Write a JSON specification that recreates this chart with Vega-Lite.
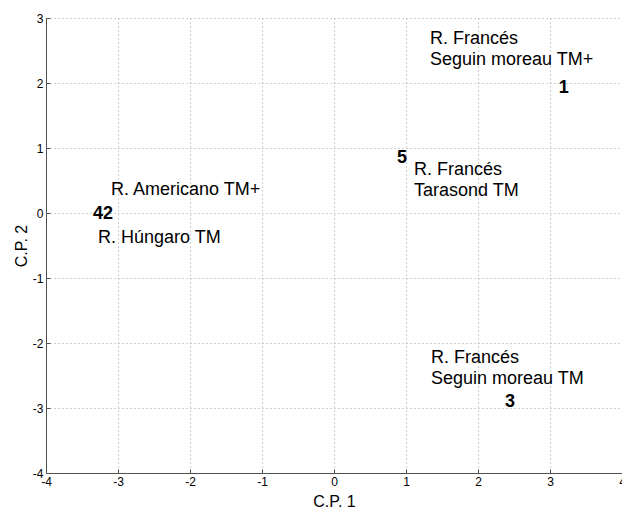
{
  "$schema": "https://vega.github.io/schema/vega-lite/v6.json",
  "width": 576,
  "height": 455,
  "autosize": {"type": "none"},
  "padding": {"left": 46, "top": 18, "right": 0, "bottom": 36},
  "background": "white",
  "config": {
    "view": {"stroke": null},
    "font": "Liberation Sans",
    "axis": {
      "grid": true,
      "gridDash": [1, 3],
      "gridColor": "#a0a0a0",
      "gridWidth": 1,
      "domainColor": "#505050",
      "domainWidth": 1,
      "tickColor": "#505050",
      "tickSize": -4,
      "labelFontSize": 12,
      "labelColor": "black",
      "labelFlush": false,
      "labelOverlap": false,
      "labelPadding": 7,
      "labelExpr": "toString(datum.value)",
      "titleFontSize": 16,
      "titleFontWeight": "normal",
      "titleColor": "black"
    }
  },
  "datasets": {
    "names": [
      {"x": 1.333, "y": 2.6, "label": "R. Francés\nSeguin moreau TM+"},
      {"x": 1.111, "y": 0.585, "label": "R. Francés\nTarasond TM"},
      {"x": -3.097, "y": 0.277, "label": "R. Americano TM+"},
      {"x": -3.278, "y": -0.46, "label": "R. Húngaro TM"},
      {"x": 1.347, "y": -2.31, "label": "R. Francés\nSeguin moreau TM"}
    ],
    "nums": [
      {"x": 3.12, "y": 1.846, "label": "1"},
      {"x": 0.875, "y": 0.769, "label": "5"},
      {"x": -3.347, "y": -0.092, "label": "42"},
      {"x": 2.375, "y": -2.985, "label": "3"}
    ]
  },
  "layer": [
    {
      "data": {"name": "names"},
      "mark": {"type": "text", "align": "left", "baseline": "alphabetic", "fontSize": 18, "lineBreak": "\n", "lineHeight": 21, "color": "black"},
      "encoding": {
        "x": {"field": "x", "type": "quantitative", "scale": {"domain": [-4, 4], "nice": false, "zero": false}, "axis": {"title": "C.P. 1", "titlePadding": 6, "values": [-4, -3, -2, -1, 0, 1, 2, 3, 4]}},
        "y": {"field": "y", "type": "quantitative", "scale": {"domain": [-4, 3], "nice": false, "zero": false}, "axis": {"title": "C.P. 2", "titlePadding": 3, "values": [-4, -3, -2, -1, 0, 1, 2, 3]}},
        "text": {"field": "label"}
      }
    },
    {
      "data": {"name": "nums"},
      "mark": {"type": "text", "align": "left", "baseline": "alphabetic", "fontSize": 18, "fontWeight": "bold", "color": "black"},
      "encoding": {
        "x": {"field": "x", "type": "quantitative"},
        "y": {"field": "y", "type": "quantitative"},
        "text": {"field": "label"}
      }
    }
  ]
}
